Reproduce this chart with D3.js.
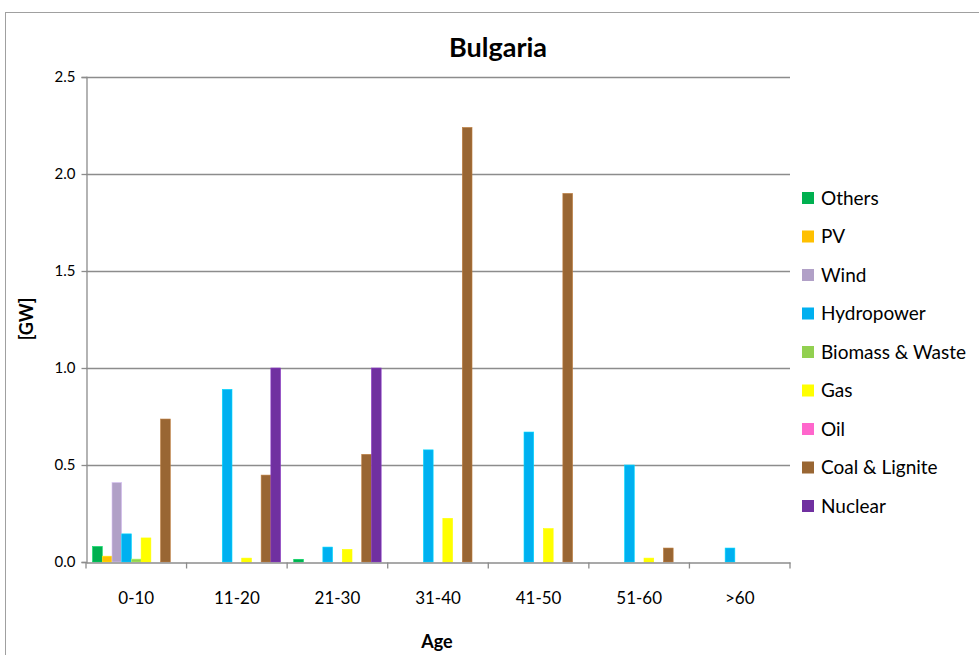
<!DOCTYPE html>
<html><head><meta charset="utf-8">
<script src="https://cdn.jsdelivr.net/npm/d3@7"></script>
<style>body{margin:0;background:#fff}svg{display:block}text{font-family:Lato,"Open Sans",sans-serif;fill:#000}</style>
</head><body><svg id="c" width="979" height="655"></svg>
<script>
const categories = ["0-10","11-20","21-30","31-40","41-50","51-60",">60"];
const seriesNames = ["Others","PV","Wind","Hydropower","Biomass & Waste","Gas","Oil","Coal & Lignite","Nuclear"];
const seriesColors = ["#00B050","#FFC000","#B1A0C7","#00B0F0","#92D050","#FFFF00","#FF66CC","#996633","#7030A0"];
const others  = [0.08, 0, 0.014, 0, 0, 0, 0];
const pv      = [0.03, 0, 0, 0, 0, 0, 0];
const wind    = [0.41, 0, 0, 0, 0, 0, 0];
const hydro   = [0.145, 0.89, 0.077, 0.578, 0.67, 0.50, 0.072];
const biomass = [0.015, 0, 0, 0, 0, 0, 0];
const gas     = [0.124, 0.02, 0.065, 0.225, 0.172, 0.02, 0];
const oil     = [0, 0, 0, 0, 0, 0, 0];
const coal    = [0.737, 0.448, 0.555, 2.24, 1.90, 0.072, 0];
const nuclear = [0, 1.0, 1.0, 0, 0, 0, 0];
const yTicks = [0, 0.5, 1.0, 1.5, 2.0, 2.5];

const seriesValues = [others, pv, wind, hydro, biomass, gas, oil, coal, nuclear];
const svg = d3.select("#c");
const L = 86, R = 790, T = 77, B = 562;

svg.append("rect").attr("x",5.5).attr("y",12.5).attr("width",1000).attr("height",700)
  .attr("fill","#fff").attr("stroke","#a0a0a0").attr("stroke-width",1);

const x0 = d3.scaleBand().domain(categories).range([L,R]).padding(0);
const x1 = d3.scaleBand().domain(seriesNames).range([0,x0.bandwidth()]).paddingInner(0).paddingOuter(0.675);
const y = d3.scaleLinear().domain([0,2.5]).range([B,T]);

// gridlines
svg.append("g").selectAll("line").data(yTicks.filter(d=>d>0)).join("line")
  .attr("x1",L).attr("x2",R).attr("y1",d=>Math.round(y(d))+0.5).attr("y2",d=>Math.round(y(d))+0.5)
  .attr("stroke","#8c8c8c").attr("stroke-width",1.3);

// bars
const g = svg.append("g");
seriesNames.forEach((s,si)=>{
  g.append("g").selectAll("rect").data(seriesValues[si].map((v,i)=>({c:categories[i],v})).filter(d=>d.v>0)).join("rect")
    .attr("x",d=>x0(d.c)+x1(s)).attr("width",x1.bandwidth())
    .attr("y",d=>y(d.v)).attr("height",d=>B-y(d.v))
    .attr("fill",seriesColors[si])
    .attr("stroke",d3.color(seriesColors[si]).brighter(0.6)).attr("stroke-width",0.6);
});

// y axis
const ya = d3.axisLeft(y).tickValues(yTicks).tickFormat(d3.format(".1f")).tickSize(5).tickPadding(6);
const yg = svg.append("g").attr("transform",`translate(${L+0.5},0)`).call(ya);
yg.select(".domain").attr("stroke","#8c8c8c").attr("stroke-width",1.3);
yg.selectAll(".tick line").attr("stroke","#8c8c8c").attr("stroke-width",1.3);
yg.selectAll("text").attr("font-size",15).attr("font-family","Lato");

// x axis
const xa = d3.axisBottom(x0).tickSize(0).tickPadding(29);
const xg = svg.append("g").attr("transform",`translate(0,${B+0.5})`).call(xa);
xg.select(".domain").attr("stroke","#8c8c8c").attr("stroke-width",1.3);
xg.selectAll("text").attr("font-size",17).attr("font-family","Lato");
xg.selectAll(".bnd").data(d3.range(categories.length+1)).join("line")
  .attr("x1",i=>L+i*x0.step()).attr("x2",i=>L+i*x0.step()).attr("y1",0).attr("y2",6)
  .attr("stroke","#8c8c8c").attr("stroke-width",1.3);

// titles
svg.append("text").attr("x",498).attr("y",57).attr("text-anchor","middle")
  .attr("font-size",27).attr("font-weight","bold").text("Bulgaria");
svg.append("text").attr("x",437).attr("y",648).attr("text-anchor","middle")
  .attr("font-size",18).attr("font-weight","bold").text("Age");
svg.append("text").attr("transform","translate(33,319) rotate(-90)").attr("text-anchor","middle")
  .attr("font-size",18).attr("font-weight","bold").text("[GW]");

// legend
const lg = svg.append("g");
seriesNames.forEach((s,i)=>{
  const cy = 198 + i*38.5;
  lg.append("rect").attr("x",802).attr("y",cy-6).attr("width",12).attr("height",12).attr("fill",seriesColors[i]);
  lg.append("text").attr("x",821).attr("y",cy+6.5).attr("font-size",19).text(s);
});
</script></body></html>
